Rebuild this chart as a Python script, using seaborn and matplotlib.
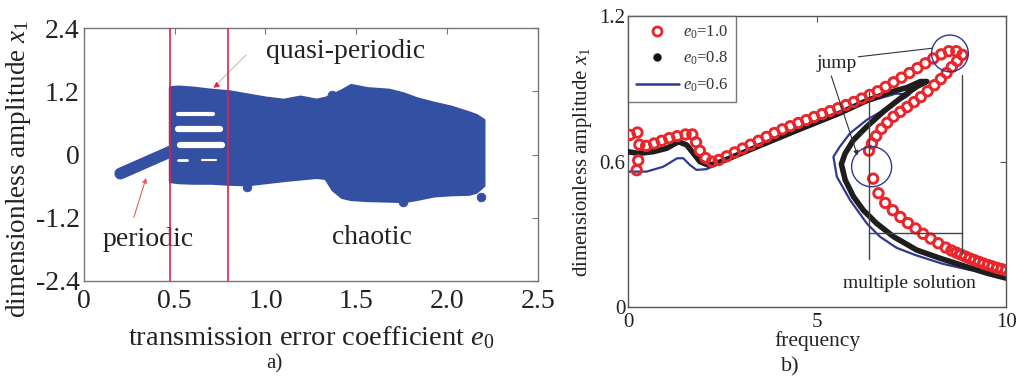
import matplotlib
matplotlib.use("Agg")
import matplotlib.pyplot as plt
import seaborn as sns
from matplotlib.lines import Line2D

# ---------------- panel a) data ----------------
env_e0 = [0.474, 0.52, 0.60, 0.70, 0.80, 0.90, 1.00, 1.10, 1.19, 1.28, 1.33, 1.37, 1.42,
          1.47, 1.56, 1.68, 1.76, 1.83, 1.93, 2.02, 2.12, 2.16, 2.20]
env_upper = [1.28, 1.29, 1.27, 1.23, 1.20, 1.14, 1.08, 1.04, 1.10, 1.04, 1.08, 1.14, 1.22,
             1.32, 1.26, 1.23, 1.16, 1.07, 0.98, 0.91, 0.80, 0.75, 0.66]
env_lower = [-0.50, -0.52, -0.53, -0.53, -0.55, -0.56, -0.52, -0.48, -0.45, -0.42, -0.44,
             -0.66, -0.80, -0.84, -0.86, -0.87, -0.88, -0.84, -0.77, -0.75, -0.74, -0.70, -0.58]
periodic_e0 = [0.20, 0.474]
periodic_x1 = [-0.36, 0.055]
outlier_e0 = [0.90, 1.365, 1.76, 2.19]
outlier_x1 = [-0.62, 1.13, -0.90, -0.80]
gap_x1 = [0.77, 0.48, 0.18, -0.10, -0.10]
gap_start = [0.52, 0.52, 0.53, 0.52, 0.65]
gap_end = [0.71, 0.75, 0.76, 0.57, 0.73]
boundary_e0 = [0.474, 0.795]
a_xticks = [0, 0.5, 1.0, 1.5, 2.0, 2.5]
a_xticklabels = ["0", "0.5", "1.0", "1.5", "2.0", "2.5"]
a_yticks = [-2.4, -1.2, 0, 1.2, 2.4]
a_yticklabels = ["-2.4", "-1.2", "0", "1.2", "2.4"]

# ---------------- panel b) data ----------------
red_f = [0.05, 0.25, 0.30, 0.27, 0.23, 0.48, 0.69, 0.89, 1.09, 1.30, 1.52, 1.70, 1.80, 1.90, 2.05, 2.22,
         2.40, 2.61, 2.82, 3.03, 3.24, 3.45, 3.66, 3.87, 4.08, 4.29, 4.50, 4.71, 4.92, 5.13, 5.34, 5.55,
         5.76, 5.97, 6.18, 6.39, 6.60, 6.81, 7.02, 7.23, 7.44, 7.65, 7.86, 8.07, 8.28, 8.48, 8.68, 8.84,
         8.70, 8.56, 8.42, 8.27, 8.10, 7.92, 7.74, 7.56, 7.38, 7.20, 7.02, 6.85, 6.70, 6.56, 6.45, 6.37,
         6.48, 6.62, 6.80, 7.00, 7.20, 7.40, 7.60, 7.80, 8.00, 8.20, 8.40, 8.55, 8.68, 8.80, 8.92, 9.04,
         9.16, 9.28, 9.40, 9.52, 9.64, 9.76, 9.88, 10.0]
red_x1 = [0.71, 0.72, 0.67, 0.605, 0.565, 0.665, 0.675, 0.686, 0.697, 0.705, 0.712, 0.712, 0.68, 0.645, 0.615, 0.60,
          0.607, 0.622, 0.638, 0.654, 0.670, 0.686, 0.702, 0.718, 0.733, 0.746, 0.759, 0.771, 0.784, 0.796, 0.808, 0.82,
          0.833, 0.846, 0.86, 0.875, 0.89, 0.908, 0.927, 0.946, 0.965, 0.985, 1.005, 1.025, 1.042, 1.055, 1.055, 1.04,
          1.015, 0.99, 0.965, 0.94, 0.915, 0.89, 0.866, 0.845, 0.825, 0.805, 0.785, 0.76, 0.735, 0.705, 0.675, 0.645,
          0.53, 0.47, 0.43, 0.40, 0.372, 0.347, 0.325, 0.303, 0.283, 0.264, 0.246, 0.234, 0.225, 0.217, 0.209, 0.201,
          0.194, 0.187, 0.18, 0.174, 0.168, 0.162, 0.157, 0.152]
black_f = [0.0, 0.27, 0.67, 1.02, 1.33, 1.55, 1.73, 1.90, 2.12, 2.34, 2.68, 3.5, 4.5, 5.6, 6.29, 6.9, 7.37,
           7.73, 7.90, 7.63, 7.20, 6.75, 6.31, 5.96, 5.74, 5.64, 5.74, 5.96, 6.22, 6.57, 7.02, 7.63, 8.25,
           8.95, 9.5, 10.0]
black_x1 = [0.641, 0.634, 0.641, 0.655, 0.682, 0.669, 0.634, 0.600, 0.586, 0.593, 0.614, 0.667, 0.731, 0.80,
            0.85, 0.885, 0.905, 0.93, 0.93, 0.909, 0.861, 0.806, 0.744, 0.689, 0.634, 0.59, 0.525, 0.456, 0.40,
            0.346, 0.291, 0.236, 0.202, 0.167, 0.14, 0.12]
blue_f = [0.0, 0.49, 0.93, 1.30, 1.46, 1.64, 1.81, 2.07, 2.24, 3.5, 5.0, 6.2, 7.08, 7.45, 7.37, 6.84, 6.31,
          5.87, 5.60, 5.43, 5.52, 5.87, 6.31, 6.66, 7.10, 7.60, 8.30, 9.00, 10.0]
blue_x1 = [0.559, 0.559, 0.579, 0.614, 0.614, 0.586, 0.566, 0.569, 0.58, 0.663, 0.761, 0.84, 0.88, 0.878,
           0.868, 0.82, 0.772, 0.717, 0.662, 0.62, 0.538, 0.442, 0.346, 0.291, 0.245, 0.215, 0.18, 0.155, 0.125]
series_labels = ["$e_0$=1.0", "$e_0$=0.8", "$e_0$=0.6"]
jump_circle_f = [8.51, 6.44]
jump_circle_x1 = [1.046, 0.579]
b_xticks = [0, 5, 10]
b_xticklabels = ["0", "5", "10"]
b_yticks = [0, 0.6, 1.2]
b_yticklabels = ["0", "0.6", "1.2"]

# ---------------- style ----------------
sns.set_theme(style="white")
plt.rcParams["font.family"] = ["Liberation Serif", "DejaVu Serif"]
plt.rcParams["mathtext.fontset"] = "custom"
plt.rcParams["mathtext.rm"] = "Liberation Serif"
plt.rcParams["mathtext.it"] = "Liberation Serif:italic"

BLUE = "#3350a2"
REDLINE = "#e0204f"
RED = "#e8262b"
NAVY = "#2f3a8f"
TXT = "#222222"

fig = plt.figure(figsize=(10.24, 3.79), dpi=100)
W, H = 1024, 379
axA = fig.add_axes([84 / W, 1 - 281 / H, (537.7 - 84) / W, (281 - 28.3) / H])
axB = fig.add_axes([628 / W, 1 - 307.3 / H, (1006.3 - 628) / W, (307.3 - 16) / H])

# ---------------- panel a ----------------
axA.fill_between(env_e0, env_lower, env_upper, color=BLUE, edgecolor=BLUE, lw=2.5,
                 joinstyle="round", zorder=2)
sns.lineplot(x=periodic_e0, y=periodic_x1, ax=axA, color=BLUE, lw=8.5,
             solid_capstyle="round", zorder=2)
sns.scatterplot(x=outlier_e0, y=outlier_x1, ax=axA, color=BLUE, edgecolor=BLUE, s=40, zorder=2)
gap_lw = [3, 4.5, 4.5, 2, 1.5]
for y, s, e, w in zip(gap_x1, gap_start, gap_end, gap_lw):
    axA.plot([s, e], [y, y], color="white", lw=w, solid_capstyle="round", zorder=3)
for xv in boundary_e0:
    axA.axvline(xv, color=REDLINE, lw=1.2, zorder=4)

axA.text(1.444, 1.95, "quasi-periodic", fontsize=20, ha="center", va="center", color=TXT)
axA.text(0.353, -1.62, "periodic", fontsize=20, ha="center", va="center", color=TXT)
axA.text(1.587, -1.58, "chaotic", fontsize=20, ha="center", va="center", color=TXT)
axA.annotate("", xy=(0.72, 1.30), xytext=(0.904, 1.93),
             arrowprops=dict(arrowstyle="-", color="#c8c8c8", lw=0.9))
axA.annotate("", xy=(0.70, 1.24), xytext=(0.74, 1.34),
             arrowprops=dict(arrowstyle="-|>", color=REDLINE, lw=0.8, mutation_scale=8))
axA.annotate("", xy=(0.347, -0.39), xytext=(0.27, -1.24),
             arrowprops=dict(arrowstyle="-|>", color="#e06060", lw=0.8, mutation_scale=7))

axA.set_xlim(0, 2.5)
axA.set_ylim(-2.4, 2.4)
axA.set_xticks(a_xticks)
axA.set_xticklabels(a_xticklabels)
axA.set_yticks(a_yticks)
axA.set_yticklabels(a_yticklabels)
axA.tick_params(direction="in", top=True, right=True, length=4, width=0.8, color="#777",
                labelsize=20, pad=3, labelcolor=TXT)
axA.tick_params(axis="x", pad=6)
axA.set_xlabel("transmission error coefficient $e_0$", fontsize=20.5, color=TXT)
axA.set_ylabel("dimensionless amplitude $x_1$", fontsize=19.5, color=TXT)
axA.xaxis.set_label_coords(0.5, -0.172)
axA.yaxis.set_label_coords(-0.112, 0.445)
for sp in axA.spines.values():
    sp.set_color("#777")
    sp.set_linewidth(1.0)

# ---------------- panel b ----------------
sns.lineplot(x=blue_f, y=blue_x1, ax=axB, sort=False, estimator=None, color=NAVY, lw=1.6, zorder=2)
sns.lineplot(x=black_f, y=black_x1, ax=axB, sort=False, estimator=None, color="#1e1e1e", lw=4,
             zorder=3)
sns.scatterplot(x=red_f, y=red_x1, ax=axB, marker="o", s=46, color="none", edgecolor=RED,
                linewidth=2.1, zorder=4)

# annotations
sns.scatterplot(x=jump_circle_f, y=jump_circle_x1, ax=axB, marker="o", size=[1, 2], sizes=(700, 830),
                color="none", edgecolor=NAVY, linewidth=1.0, zorder=5, legend=False)
axB.plot([6.09, 8.03], [1.032, 1.067], color="#333", lw=0.8, zorder=5)
axB.annotate("", xy=(6.09, 0.614), xytext=(5.35, 0.964),
             arrowprops=dict(arrowstyle="-|>", color="#333", lw=0.8, mutation_scale=7), zorder=5)
axB.text(5.52, 1.005, "jump", fontsize=14, ha="center", va="center", color=TXT)
axB.plot([6.38, 6.38], [0.888, 0.20], color="#444", lw=1.0, zorder=5)
axB.plot([8.82, 8.82], [0.957, 0.22], color="#444", lw=1.0, zorder=5)
axB.plot([6.38, 8.82], [0.307, 0.307], color="#444", lw=1.0, zorder=5)
axB.text(7.43, 0.099, "multiple solution", fontsize=14, ha="center", va="center", color=TXT)

axB.set_xlim(0, 10)
axB.set_ylim(0, 1.2)
axB.set_xticks(b_xticks)
axB.set_xticklabels(b_xticklabels)
axB.set_yticks(b_yticks)
axB.set_yticklabels(b_yticklabels)
axB.tick_params(direction="in", top=True, right=True, length=4, width=0.8, color="#555",
                labelsize=15, pad=2, labelcolor=TXT)
axB.tick_params(axis="x", pad=4)
axB.set_xlabel("frequency", fontsize=15.5, color=TXT)
axB.set_ylabel("dimensionless amplitude $x_1$", fontsize=15, color=TXT)
axB.xaxis.set_label_coords(0.5, -0.083)
axB.yaxis.set_label_coords(-0.09, 0.5)
for sp in axB.spines.values():
    sp.set_color("#555")
    sp.set_linewidth(1.0)

handles = [
    Line2D([], [], ls="none", marker="o", ms=6.5, mfc="none", mec=RED, mew=2.0),
    Line2D([], [], ls="none", marker="o", ms=5, mfc="#111", mec="#111"),
    Line2D([], [], color=NAVY, lw=1.8),
]
leg = axB.legend(handles, series_labels, loc="upper left", bbox_to_anchor=(0, 1), borderaxespad=0,
                 fontsize=12, frameon=True, fancybox=False, handlelength=2.6, labelspacing=0.55,
                 borderpad=0.45, handletextpad=0.25)
leg.get_frame().set_edgecolor("#555")
leg.get_frame().set_linewidth(1.0)
for t in leg.get_texts():
    t.set_color("#333")

fig.text(274 / W, 1 - 364 / H, "a)", fontsize=15, ha="center", va="center", color=TXT)
fig.text(790 / W, 1 - 367 / H, "b)", fontsize=16, ha="center", va="center", color=TXT)

fig.savefig("out.png", dpi=100)
